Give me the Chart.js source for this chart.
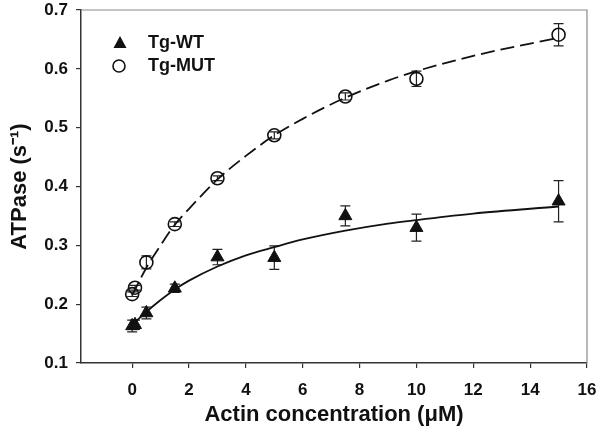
<!DOCTYPE html>
<html>
<head>
<meta charset="utf-8">
<script src="https://cdn.jsdelivr.net/npm/chart.js@4"></script>
<style>
  html, body { margin: 0; padding: 0; background: #fff; }
  #wrap { width: 600px; height: 431px; position: relative; }
</style>
</head>
<body>
<div id="wrap"><canvas id="atpase-chart"></canvas></div>
<script>
// measured points
const conc = [0, 0.1, 0.5, 1.5, 3, 5, 7.5, 10, 15];
const wtValues = [0.163, 0.165, 0.185, 0.227, 0.280, 0.279, 0.350, 0.330, 0.375];
const wtErrors = [0.010, 0.008, 0.010, 0.007, 0.013, 0.020, 0.017, 0.023, 0.035];
const mutValues = [0.217, 0.228, 0.271, 0.336, 0.414, 0.487, 0.553, 0.583, 0.658];
const mutErrors = [0.004, 0.004, 0.011, 0.004, 0.004, 0.006, 0.006, 0.013, 0.019];

// fitted curves
const fitConc = [0, 0.5, 1, 1.5, 2, 3, 4, 5, 6, 7.5, 9, 10, 12, 15];
const wtFit = [0.165, 0.187, 0.207, 0.225, 0.240, 0.264, 0.283, 0.297, 0.310, 0.325, 0.337, 0.343, 0.354, 0.366];
const mutFit = [0.215, 0.262, 0.300, 0.335, 0.362, 0.412, 0.452, 0.487, 0.515, 0.551, 0.580, 0.596, 0.622, 0.653];

const xTicks = [0, 2, 4, 6, 8, 10, 12, 14, 16];
const yTicks = [0.1, 0.2, 0.3, 0.4, 0.5, 0.6, 0.7];

const FONT = '"Liberation Sans", Arial, sans-serif';

function toPoints(xs, ys) {
  return xs.map((x, i) => ({ x: x, y: ys[i] }));
}

// error bars drawn through the chart scales
const errorBars = {
  id: 'errorBars',
  beforeDatasetsDraw(chart) {
    const ctx = chart.ctx;
    const xs = chart.scales.x, ys = chart.scales.y;
    const sets = [[wtValues, wtErrors], [mutValues, mutErrors]];
    ctx.save();
    ctx.strokeStyle = '#222';
    ctx.lineWidth = 1.2;
    sets.forEach(([vals, errs]) => {
      vals.forEach((v, i) => {
        const px = xs.getPixelForValue(conc[i]);
        const top = ys.getPixelForValue(v + errs[i]);
        const bot = ys.getPixelForValue(v - errs[i]);
        ctx.beginPath();
        ctx.moveTo(px, top); ctx.lineTo(px, bot);
        ctx.moveTo(px - 5, top); ctx.lineTo(px + 5, top);
        ctx.moveTo(px - 5, bot); ctx.lineTo(px + 5, bot);
        ctx.stroke();
      });
    });
    ctx.restore();
  }
};

// frame: light top/right border plus legend in the corner
const frameAndLegend = {
  id: 'frameAndLegend',
  afterDraw(chart) {
    const ctx = chart.ctx;
    const a = chart.chartArea;
    ctx.save();
    ctx.strokeStyle = '#8a8a8a';
    ctx.lineWidth = 1.2;
    ctx.beginPath();
    ctx.moveTo(a.left, a.top); ctx.lineTo(a.right, a.top); ctx.lineTo(a.right, a.bottom);
    ctx.stroke();

    // legend
    ctx.fillStyle = '#111';
    ctx.beginPath();
    ctx.moveTo(120, 36); ctx.lineTo(126.5, 48); ctx.lineTo(113.5, 48); ctx.closePath();
    ctx.fill();
    ctx.strokeStyle = '#111';
    ctx.lineWidth = 1.6;
    ctx.beginPath();
    ctx.arc(119, 66, 6, 0, Math.PI * 2);
    ctx.stroke();
    ctx.font = 'bold 18px ' + FONT;
    ctx.textBaseline = 'middle';
    ctx.fillText('Tg-WT', 148, 43);
    ctx.fillText('Tg-MUT', 148, 66);
    ctx.restore();
  }
};

const ctx = document.getElementById('atpase-chart').getContext('2d');
new Chart(ctx, {
  type: 'scatter',
  data: {
    datasets: [
      {
        label: 'Tg-WT fit',
        data: toPoints(fitConc, wtFit),
        showLine: true,
        borderColor: '#111',
        borderWidth: 1.8,
        pointRadius: 0,
        cubicInterpolationMode: 'monotone'
      },
      {
        label: 'Tg-MUT fit',
        data: toPoints(fitConc, mutFit),
        showLine: true,
        borderColor: '#111',
        borderWidth: 1.8,
        borderDash: [14, 6],
        pointRadius: 0,
        cubicInterpolationMode: 'monotone'
      },
      {
        label: 'Tg-WT',
        data: toPoints(conc, wtValues),
        pointStyle: 'triangle',
        pointRadius: 7.5,
        backgroundColor: '#111',
        borderColor: '#111',
        borderWidth: 1
      },
      {
        label: 'Tg-MUT',
        data: toPoints(conc, mutValues),
        pointStyle: 'circle',
        pointRadius: 6.5,
        backgroundColor: 'rgba(255,255,255,0)',
        borderColor: '#111',
        borderWidth: 1.6
      }
    ]
  },
  options: {
    responsive: true,
    maintainAspectRatio: false,
    animation: false,
    layout: { padding: { top: 10, right: 13, left: 0, bottom: 0 } },
    plugins: {
      legend: { display: false },
      tooltip: { enabled: false }
    },
    scales: {
      x: {
        type: 'linear',
        min: -1.8,
        max: 16,
        afterBuildTicks: axis => { axis.ticks = xTicks.map(v => ({ value: v })); },
        afterFit: axis => { axis.height = 68; axis.paddingLeft = 0; axis.paddingRight = 0; },
        border: { display: true, color: '#333', width: 1.5 },
        grid: { drawOnChartArea: false, drawTicks: true, tickLength: 5, color: '#333', lineWidth: 1.2 },
        ticks: { color: '#111', font: { family: FONT, size: 17, weight: 'bold' }, padding: 12 },
        title: {
          display: true,
          text: 'Actin concentration (\u03BCM)',
          color: '#111',
          font: { family: FONT, size: 22, weight: 'bold' },
          padding: { top: 2, bottom: 3 }
        }
      },
      y: {
        min: 0.1,
        max: 0.7,
        afterBuildTicks: axis => { axis.ticks = yTicks.map(v => ({ value: v })); },
        afterFit: axis => { axis.width = 81; axis.paddingTop = 0; axis.paddingBottom = 0; },
        border: { display: true, color: '#333', width: 1.5 },
        grid: { drawOnChartArea: false, drawTicks: true, tickLength: 5, color: '#333', lineWidth: 1.2 },
        ticks: {
          color: '#111',
          font: { family: FONT, size: 17, weight: 'bold' },
          padding: 8,
          callback: v => v.toFixed(1)
        },
        title: {
          display: true,
          text: 'ATPase (s\u207B\u00B9)',
          color: '#111',
          font: { family: FONT, size: 22, weight: 'bold' },
          padding: { top: 7, bottom: 2 }
        }
      }
    }
  },
  plugins: [errorBars, frameAndLegend]
});
</script>
</body>
</html>
